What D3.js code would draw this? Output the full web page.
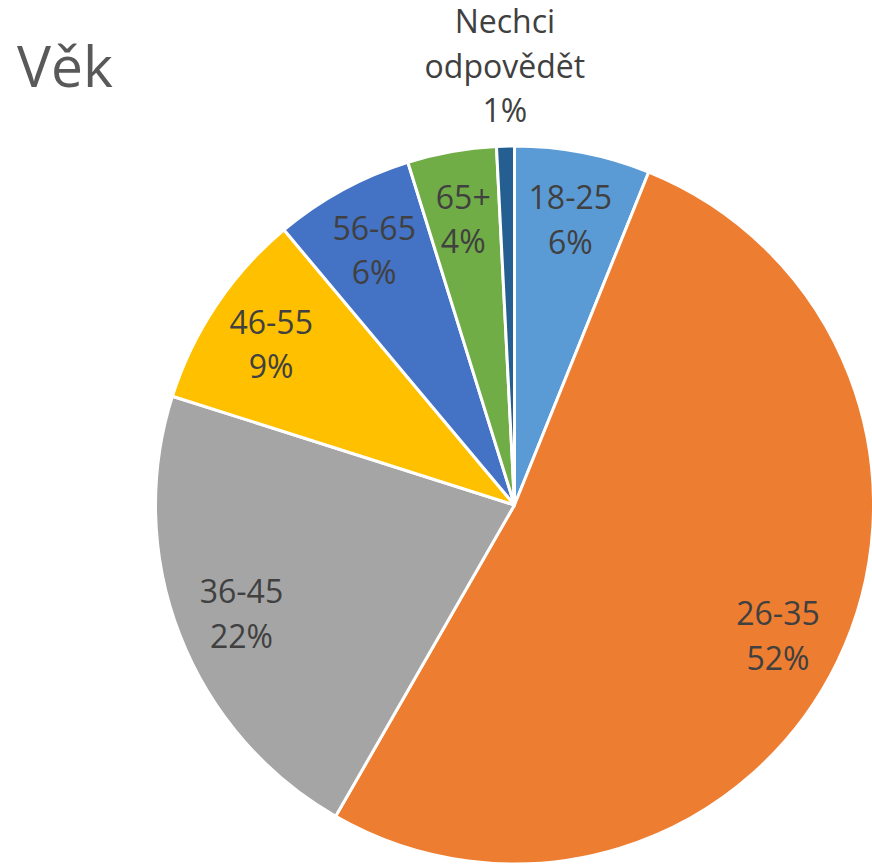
<!DOCTYPE html>
<html>
<head>
<meta charset="utf-8">
<script src="https://cdn.jsdelivr.net/npm/d3@7"></script>
<style>
  body { margin: 0; background: #fff; }
  text { font-family: "Open Sans", sans-serif; }
</style>
</head>
<body>
<div id="canvas"></div>
<script>
// Datos del grafico
const categories = ["18-25", "26-35", "36-45", "46-55", "56-65", "65+", "Nechci odpovědět"];
const values = [6.1, 52.2, 21.6, 9.0, 6.3, 4.0, 0.8];
const colors = ["#5B9BD5", "#ED7D31", "#A5A5A5", "#FFC000", "#4472C4", "#70AD47", "#255E91"];
// etiquetas de varias lineas
const labelLines = [["18-25"], ["26-35"], ["36-45"], ["46-55"], ["56-65"], ["65+"], ["Nechci", "odpovědět"]];
const outside = [false, false, false, false, false, false, true];

const width = 872;
const height = 864;
const cx = 514.5, cy = 505, radius = 359;

const svg = d3.select("#canvas").append("svg")
    .attr("width", width)
    .attr("height", height);

// Titulo
svg.append("text")
    .attr("x", 17)
    .attr("y", 87)
    .style("font-size", "57px")
    .attr("fill", "#595959")
    .text("Věk");

const data = categories.map((c, i) => ({ name: c, value: values[i], i: i }));
const total = d3.sum(values);
const fmt = d3.format(".0%");

const pie = d3.pie().sort(null).value(d => d.value);
const arc = d3.arc().innerRadius(0).outerRadius(radius);
const arcs = pie(data);

const g = svg.append("g").attr("transform", `translate(${cx}, ${cy})`);

g.selectAll("path").data(arcs).enter()
    .append("path")
    .attr("d", arc)
    .attr("fill", d => colors[d.data.i])
    .attr("stroke", "#fff")
    .attr("stroke-width", 3)
    .attr("stroke-linejoin", "round");

const inArc = d3.arc().innerRadius(radius * 0.816).outerRadius(radius * 0.816);
const outArc = d3.arc().innerRadius(radius + 24).outerRadius(radius + 24);
const lineH = 44.5;

const labels = g.selectAll("g.lbl").data(arcs).enter()
    .append("g").attr("class", "lbl")
    .attr("transform", d => {
        const p = outside[d.data.i] ? outArc.centroid(d) : inArc.centroid(d);
        return `translate(${p[0]}, ${p[1]})`;
    });

labels.each(function (d) {
    const lines = labelLines[d.data.i].concat([fmt(d.data.value / total)]);
    const n = lines.length;
    // interior: bloque centrado; exterior: ultima linea en el punto
    const y0 = outside[d.data.i] ? -(n - 1) * lineH : -8 - (n - 2) * lineH / 2;
    d3.select(this).selectAll("text").data(lines).enter()
        .append("text")
        .attr("text-anchor", "middle")
        .attr("x", 0)
        .attr("y", (t, k) => y0 + k * lineH)
        .style("font-size", "32px")
        .attr("fill", "#404040")
        .text(t => t);
});
</script>
</body>
</html>
